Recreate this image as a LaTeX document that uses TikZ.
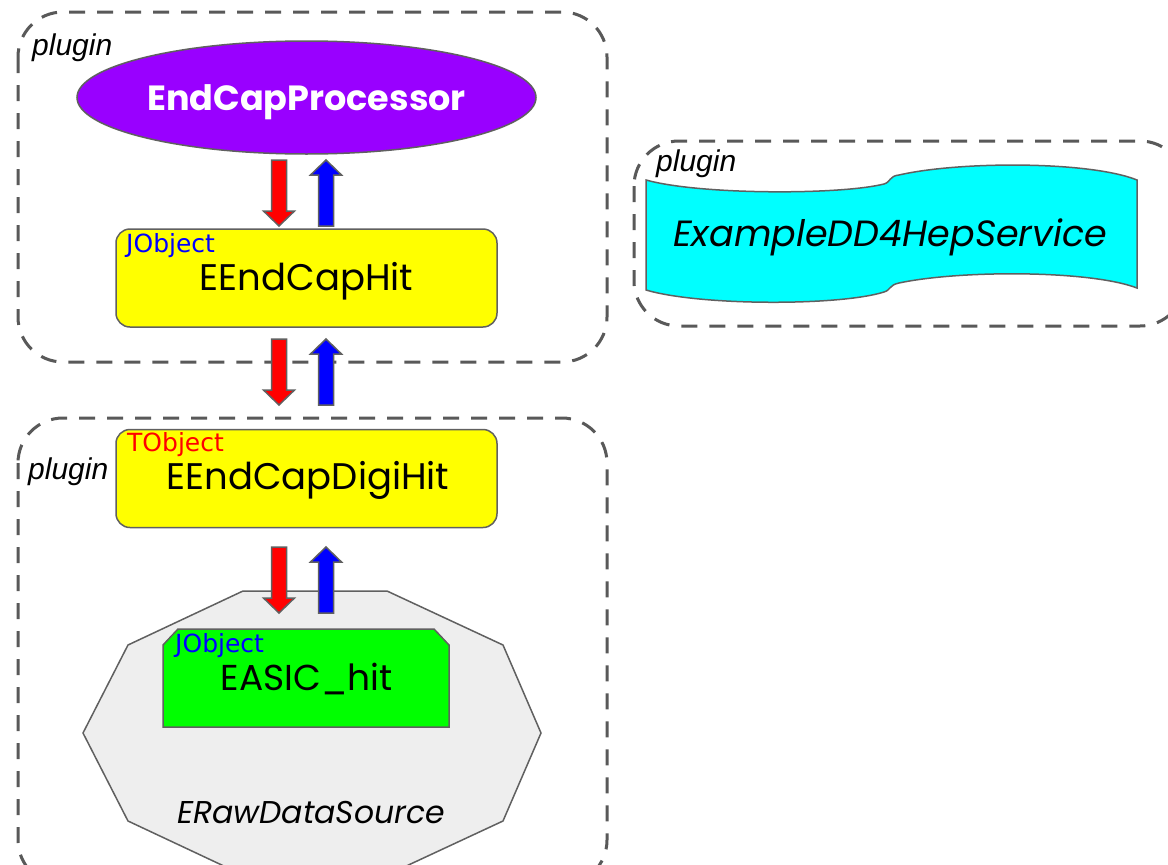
\documentclass[tikz,border=0pt]{standalone}
\usepackage{fontspec}
\setmainfont{Liberation Sans}
\newfontfamily\gothic{Poppins}
\newfontfamily\comic{DejaVu Sans}
\usetikzlibrary{shapes.geometric}
\definecolor{dashgray}{HTML}{595959}
\definecolor{edgegray}{HTML}{606060}
\definecolor{procpurple}{HTML}{9900FF}
\definecolor{hityellow}{HTML}{FFFF00}
\definecolor{asicgreen}{HTML}{00FF00}
\definecolor{svccyan}{HTML}{00FFFF}
\definecolor{srcgray}{HTML}{EEEEEE}
\definecolor{arrred}{HTML}{FF0000}
\definecolor{arrblue}{HTML}{0000FF}
\tikzset{
  pluginbox/.style={draw=dashgray, line width=3pt, dash pattern=on 16pt off 12pt, rounded corners=45pt},
  shapeedge/.style={draw=edgegray, line width=1.5pt},
  hitbox/.style={shapeedge, fill=hityellow, rounded corners=14pt, minimum width=381pt, minimum height=98pt, inner sep=0pt},
  pluginlabel/.style={anchor=base west, inner sep=0pt, font=\fontsize{30}{33}\selectfont\itshape},
  objlabel/.style={anchor=base west, inner sep=0pt, font=\comic\fontsize{25}{28}\selectfont},
  maintext/.style={anchor=base, inner sep=0pt, font=\gothic\fontsize{37}{42}\selectfont},
  downarr/.pic={\filldraw[shapeedge, fill=arrred] (-7.5,0) -- (7.5,0) -- (7.5,51) -- (15.5,51) -- (0,66) -- (-15.5,51) -- (-7.5,51) -- cycle;},
  uparr/.pic={\filldraw[shapeedge, fill=arrblue] (-7.5,66) -- (7.5,66) -- (7.5,15) -- (15.5,15) -- (0,0) -- (-15.5,15) -- (-7.5,15) -- cycle;}
}
\begin{document}
\begin{tikzpicture}[x=1pt,y=-1pt]
\useasboundingbox (0,0) rectangle (1168,865);
\fill[white] (0,0) rectangle (1168,865);

% plugin boxes
\draw[pluginbox] (18,12) rectangle (607,362);
\draw[pluginbox] (18,418) rectangle (607,885);
\draw[pluginbox] (634,141) rectangle (1185,326);

% top plugin
\node[pluginlabel] (plug1) at (32,55) {plugin};
\node[ellipse, shapeedge, fill=procpurple, minimum width=459pt, minimum height=113pt, inner sep=0pt] (proc) at (306.5,97.5) {};
\node[maintext, text=white, font=\gothic\bfseries\fontsize{35}{40}\selectfont] (proctxt) at (306.5,110) {EndCapProcessor};
\pic at (279,160) {downarr};
\pic at (326,160) {uparr};
\node[hitbox] (hit) at (306.5,278) {};
\node[objlabel, text=arrblue] (hitobj) at (126,252) {JObject};
\node[maintext] (hittxt) at (306.5,290) {EEndCapHit};

% between
\pic at (279,339) {downarr};
\pic at (326,339) {uparr};

% lower plugin
\node[pluginlabel] (plug2) at (28,479) {plugin};
\node[hitbox] (digi) at (306.5,478.5) {};
\node[objlabel, text=arrred] (digiobj) at (127,451) {TObject};
\node[maintext] (digitxt) at (308,489) {EEndCapDigiHit};

\filldraw[shapeedge, fill=srcgray] (243,591) -- (387,591) -- (503,645) -- (541,733) -- (503,821) -- (387,875) -- (243,875) -- (128,821) -- (83,733) -- (128,645) -- cycle;
\node[anchor=base, inner sep=0pt, font=\gothic\itshape\fontsize{31.5}{36}\selectfont] (srctxt) at (311,823) {ERawDataSource};

\pic at (279,547) {downarr};
\pic at (326,547) {uparr};

\filldraw[shapeedge, fill=asicgreen] (163,727) -- (163,645) -- (178,629) -- (434,629) -- (449,645) -- (449,727) -- cycle;
\node[objlabel, text=arrblue] (asicobj) at (175,652) {JObject};
\node[maintext, font=\gothic\fontsize{36}{40}\selectfont] (asictxt) at (306.5,690) {EASIC\_hit};

% right plugin
\node[pluginlabel] (plug3) at (656,171) {plugin};
\filldraw[shapeedge, fill=svccyan] (646,180) .. controls (700,195) and (840,195) .. (884,184) .. controls (891,182) and (889,176) .. (899,175) .. controls (960,161) and (1090,161) .. (1137,180) -- (1137,288) .. controls (1090,270) and (960,270) .. (899,283) .. controls (889,285) and (891,290) .. (884,292) .. controls (840,306) and (700,306) .. (646,290) -- cycle;
\node[anchor=base, inner sep=0pt, font=\gothic\itshape\fontsize{36.5}{41}\selectfont] (svctxt) at (890,246) {ExampleDD4HepService};
\end{tikzpicture}
\end{document}
